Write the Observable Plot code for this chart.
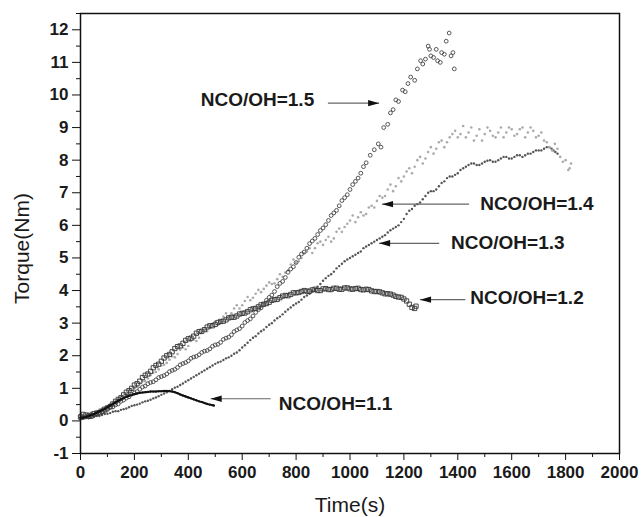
<!DOCTYPE html>
<html><head><meta charset="utf-8">
<script src="https://cdn.jsdelivr.net/npm/d3@7"></script>
<script src="https://cdn.jsdelivr.net/npm/@observablehq/plot@0.6"></script>
<style>body{margin:0;background:#fff}#chart{width:641px;height:517px}</style>
</head><body><div id="chart"></div>
<script>
// ---- data: [time (s), torque (Nm)] ----
const nco15 = [[0,0.15],[10,0.1],[20,0.12],[30,0.18],[40,0.2],[50,0.17],[60,0.2],[70,0.26],[80,0.28],[90,0.3],[100,0.35],[110,0.41],[120,0.43],[130,0.49],[140,0.52],[150,0.6],[160,0.64],[170,0.7],[180,0.74],[190,0.82],[200,0.86],[210,0.9],[220,0.97],[230,1.04],[240,1.07],[250,1.14],[260,1.18],[270,1.2],[280,1.26],[290,1.33],[300,1.36],[310,1.39],[320,1.44],[330,1.51],[340,1.55],[350,1.58],[360,1.64],[370,1.72],[380,1.76],[390,1.79],[400,1.84],[410,1.92],[420,1.96],[430,1.98],[440,2.03],[450,2.1],[460,2.14],[470,2.16],[480,2.21],[490,2.29],[500,2.33],[510,2.35],[520,2.41],[530,2.5],[540,2.54],[550,2.57],[560,2.64],[570,2.74],[580,2.79],[590,2.83],[600,2.91],[610,3.02],[620,3.08],[630,3.13],[640,3.22],[650,3.33],[660,3.41],[670,3.47],[680,3.57],[690,3.7],[700,3.79],[710,3.86],[720,3.97],[730,4.12],[740,4.22],[750,4.28],[760,4.4],[770,4.56],[780,4.66],[790,4.73],[800,4.86],[810,5.02],[820,5.12],[830,5.18],[840,5.3],[850,5.44],[860,5.52],[870,5.6],[880,5.72],[890,5.84],[900,5.92],[910,6.02],[920,6.15],[930,6.3],[940,6.38],[950,6.46],[960,6.6],[970,6.76],[980,6.85],[990,6.94],[1000,7.1],[1010,7.25],[1020,7.35],[1030,7.45],[1040,7.6],[1050,7.8],[1060,7.92],[1075,8.15],[1090,8.32],[1105,8.5],[1115,8.4],[1125,9.0],[1140,9.1],[1150,9.45],[1160,9.55],[1170,9.85],[1180,9.8],[1195,10.15],[1205,10.1],[1215,10.35],[1225,10.55],[1240,10.45],[1250,10.8],[1262,11.05],[1270,10.95],[1280,11.1],[1290,11.5],[1295,11.4],[1300,11.2],[1310,11.15],[1320,11.4],[1325,11.05],[1335,11.0],[1340,11.3],[1350,11.25],[1357,11.65],[1368,11.9],[1375,11.2],[1382,11.3],[1387,10.8]];

const nco14 = [[0,0.2],[10,0.18],[20,0.15],[30,0.22],[40,0.25],[50,0.22],[60,0.3],[70,0.35],[80,0.38],[90,0.4],[100,0.45],[110,0.52],[120,0.55],[130,0.6],[140,0.68],[150,0.75],[160,0.78],[170,0.82],[180,0.92],[190,0.98],[200,1.0],[210,1.05],[220,1.15],[230,1.22],[240,1.22],[250,1.3],[260,1.4],[270,1.48],[280,1.5],[290,1.58],[300,1.7],[310,1.72],[320,1.78],[330,1.88],[340,1.98],[350,1.95],[360,2.05],[370,2.18],[380,2.25],[390,2.2],[400,2.3],[410,2.45],[420,2.5],[430,2.45],[440,2.55],[450,2.7],[460,2.78],[470,2.75],[480,2.85],[490,2.98],[500,3.05],[510,2.95],[520,3.05],[530,3.2],[540,3.3],[550,3.2],[560,3.3],[570,3.45],[580,3.55],[590,3.45],[600,3.55],[610,3.68],[620,3.8],[630,3.7],[640,3.78],[650,3.9],[660,4.02],[670,3.95],[680,4.05],[690,4.15],[700,4.25],[710,4.2],[720,4.22],[730,4.35],[740,4.5],[750,4.42],[760,4.55],[770,4.62],[780,4.8],[790,4.95],[800,4.85],[810,4.9],[820,5.0],[830,5.15],[840,5.2],[850,5.3],[860,5.15],[870,5.3],[880,5.45],[890,5.5],[900,5.4],[910,5.55],[920,5.65],[930,5.5],[940,5.6],[950,5.8],[960,5.9],[970,5.8],[980,5.95],[990,6.05],[1000,6.15],[1010,6.3],[1020,6.1],[1030,6.25],[1040,6.4],[1050,6.3],[1060,6.35],[1070,6.55],[1080,6.6],[1090,6.55],[1100,6.75],[1110,6.9],[1120,6.85],[1130,6.9],[1140,7.1],[1150,7.25],[1160,7.05],[1170,7.2],[1180,7.45],[1190,7.35],[1200,7.5],[1210,7.65],[1220,7.75],[1230,7.6],[1240,7.8],[1250,8.0],[1260,8.1],[1270,7.9],[1280,8.05],[1290,8.25],[1300,8.4],[1310,8.2],[1320,8.35],[1330,8.55],[1340,8.6],[1350,8.4],[1360,8.55],[1370,8.7],[1380,8.8],[1390,8.9],[1400,8.7],[1410,8.8],[1420,9.05],[1430,8.7],[1440,8.85],[1450,9.0],[1460,8.6],[1470,8.75],[1480,8.95],[1490,8.6],[1500,8.8],[1510,9.0],[1520,8.9],[1530,8.75],[1540,8.7],[1550,8.85],[1560,9.0],[1570,8.7],[1580,8.85],[1590,9.0],[1600,8.95],[1610,8.75],[1620,8.8],[1630,8.95],[1640,9.0],[1650,8.7],[1660,8.85],[1670,9.0],[1680,8.9],[1690,8.7],[1700,8.75],[1710,8.85],[1720,8.6],[1730,8.55],[1740,8.4],[1750,8.3],[1760,8.5],[1770,8.35],[1780,8.1],[1790,7.95],[1800,8.0],[1810,7.7],[1815,7.75],[1820,7.9]];

const nco13 = [[0,0.05],[10,0.08],[20,0.1],[30,0.08],[40,0.1],[50,0.13],[60,0.15],[70,0.15],[80,0.18],[90,0.21],[100,0.22],[110,0.24],[120,0.28],[130,0.3],[140,0.3],[150,0.34],[160,0.36],[170,0.38],[180,0.42],[190,0.46],[200,0.48],[210,0.5],[220,0.53],[230,0.57],[240,0.6],[250,0.62],[260,0.65],[270,0.69],[280,0.72],[290,0.76],[300,0.8],[310,0.84],[320,0.88],[330,0.92],[340,0.97],[350,1.02],[360,1.05],[370,1.1],[380,1.15],[390,1.2],[400,1.25],[410,1.3],[420,1.35],[430,1.4],[440,1.45],[450,1.5],[460,1.55],[470,1.6],[480,1.65],[490,1.7],[500,1.75],[510,1.79],[520,1.82],[530,1.87],[540,1.92],[550,1.95],[560,2.0],[570,2.06],[580,2.1],[590,2.17],[600,2.25],[610,2.32],[620,2.4],[630,2.48],[640,2.55],[650,2.6],[660,2.68],[670,2.75],[680,2.8],[690,2.88],[700,2.95],[710,3.0],[720,3.08],[730,3.15],[740,3.2],[750,3.27],[760,3.35],[770,3.42],[780,3.48],[790,3.55],[800,3.6],[810,3.65],[820,3.72],[830,3.8],[840,3.85],[850,3.9],[860,3.98],[870,4.05],[880,4.12],[890,4.2],[900,4.3],[910,4.38],[920,4.45],[930,4.5],[940,4.58],[950,4.68],[960,4.75],[970,4.82],[980,4.9],[990,4.95],[1000,5.0],[1010,5.05],[1020,5.1],[1030,5.15],[1040,5.2],[1050,5.3],[1060,5.35],[1070,5.4],[1080,5.45],[1090,5.5],[1100,5.55],[1110,5.6],[1120,5.65],[1130,5.7],[1140,5.78],[1150,5.85],[1160,5.9],[1170,5.95],[1180,6.0],[1190,6.1],[1200,6.2],[1210,6.35],[1220,6.45],[1230,6.5],[1240,6.6],[1250,6.65],[1260,6.7],[1270,6.8],[1280,6.9],[1290,7.0],[1300,7.05],[1310,7.05],[1320,7.1],[1330,7.2],[1340,7.3],[1350,7.35],[1360,7.45],[1370,7.5],[1380,7.5],[1390,7.55],[1400,7.6],[1410,7.7],[1420,7.75],[1430,7.8],[1440,7.85],[1450,7.9],[1460,7.9],[1470,7.85],[1480,7.85],[1490,7.9],[1500,7.95],[1510,7.98],[1520,8.0],[1530,7.95],[1540,7.95],[1550,8.0],[1560,8.05],[1570,8.1],[1580,8.1],[1590,8.05],[1600,8.05],[1610,8.1],[1620,8.15],[1630,8.15],[1640,8.1],[1650,8.15],[1660,8.2],[1670,8.2],[1680,8.25],[1690,8.3],[1700,8.3],[1710,8.3],[1720,8.35],[1730,8.4],[1740,8.4],[1748,8.35],[1755,8.3],[1762,8.25],[1770,8.2]];

const nco12 = [[0,0.12],[10,0.2],[20,0.18],[30,0.14],[40,0.15],[50,0.22],[60,0.24],[70,0.25],[80,0.3],[90,0.36],[100,0.4],[110,0.44],[120,0.52],[130,0.6],[140,0.66],[150,0.71],[160,0.8],[170,0.88],[180,0.93],[190,1.0],[200,1.1],[210,1.14],[220,1.22],[230,1.33],[240,1.4],[250,1.44],[260,1.52],[270,1.63],[280,1.7],[290,1.74],[300,1.83],[310,1.93],[320,2.0],[330,2.04],[340,2.12],[350,2.22],[360,2.28],[370,2.3],[380,2.38],[390,2.47],[400,2.52],[410,2.54],[420,2.6],[430,2.69],[440,2.74],[450,2.75],[460,2.8],[470,2.88],[480,2.92],[490,2.92],[500,2.96],[510,3.02],[520,3.05],[530,3.06],[540,3.1],[550,3.16],[560,3.18],[570,3.18],[580,3.22],[590,3.28],[600,3.3],[610,3.31],[620,3.35],[630,3.41],[640,3.44],[650,3.45],[660,3.5],[670,3.56],[680,3.58],[690,3.6],[700,3.64],[710,3.7],[720,3.72],[730,3.73],[740,3.78],[750,3.83],[760,3.85],[770,3.84],[780,3.88],[790,3.93],[800,3.93],[810,3.94],[820,3.97],[830,4.0],[840,3.98],[850,3.98],[860,4.02],[870,4.04],[880,4.0],[890,4.0],[900,4.05],[910,4.06],[920,4.03],[930,4.03],[940,4.07],[950,4.07],[960,4.04],[970,4.04],[980,4.08],[990,4.08],[1000,4.05],[1010,4.04],[1020,4.06],[1030,4.07],[1040,4.03],[1050,4.02],[1060,4.04],[1070,4.03],[1080,3.99],[1090,3.97],[1100,3.97],[1110,3.96],[1120,3.93],[1130,3.9],[1140,3.9],[1150,3.89],[1160,3.86],[1170,3.82],[1180,3.8],[1190,3.79],[1200,3.74],[1210,3.68],[1220,3.58],[1230,3.48],[1240,3.45],[1245,3.52]];

const nco11 = [[0,0.1],[10,0.1],[20,0.12],[30,0.15],[40,0.18],[50,0.21],[60,0.25],[70,0.29],[80,0.33],[90,0.37],[100,0.42],[110,0.47],[120,0.52],[130,0.57],[140,0.62],[150,0.66],[160,0.7],[170,0.74],[180,0.77],[190,0.8],[200,0.82],[210,0.84],[220,0.86],[230,0.87],[240,0.88],[250,0.89],[260,0.9],[270,0.9],[280,0.9],[290,0.91],[300,0.91],[310,0.92],[320,0.92],[330,0.91],[340,0.9],[350,0.88],[360,0.85],[370,0.81],[380,0.78],[390,0.75],[400,0.72],[410,0.69],[420,0.66],[430,0.63],[440,0.6],[450,0.58],[460,0.55],[470,0.52],[480,0.5],[490,0.48],[495,0.47]];

const xTicks = [0,200,400,600,800,1000,1200,1400,1600,1800,2000];
const xMinor = [100,300,500,700,900,1100,1300,1500,1700,1900];
const yTicks = [-1,0,1,2,3,4,5,6,7,8,9,10,11,12];
const yMinor = [-0.5,0.5,1.5,2.5,3.5,4.5,5.5,6.5,7.5,8.5,9.5,10.5,11.5,12.5];

const annLabels = ["NCO/OH=1.5","NCO/OH=1.4","NCO/OH=1.3","NCO/OH=1.2","NCO/OH=1.1"];
const annTextX = [446, 1483, 1375, 1446, 736];
const annTextY = [9.85, 6.65, 5.45, 3.78, 0.52];
const arrowFromX = [918, 1442, 1331, 1428, 706];
const arrowToX = [1108, 1119, 1108, 1260, 483];
const arrowY = [9.75, 6.65, 5.45, 3.72, 0.68];

// ---- build tables ----
const pts = arr => arr.map(([t, v]) => ({t, v}));
const s15 = pts(nco15), s14 = pts(nco14), s13 = pts(nco13), s12 = pts(nco12), s11 = pts(nco11);
const ann = annLabels.map((label, i) => ({label, tx: annTextX[i], ty: annTextY[i], x1: arrowFromX[i], x2: arrowToX[i], y: arrowY[i], rot: arrowToX[i] > arrowFromX[i] ? 0 : 180}));

const head = {draw(ctx) { ctx.moveTo(0, 0); ctx.lineTo(-11, -3.2); ctx.lineTo(-11, 3.2); ctx.closePath(); }};
const fmt = d => String(d);

const chart = Plot.plot({
  width: 641, height: 517,
  marginLeft: 80, marginRight: 22, marginTop: 13, marginBottom: 64,
  style: {fontFamily: "Arial, 'Liberation Sans', sans-serif", background: "#fff", color: "#1a1a1a"},
  x: {domain: [0, 2000], label: null},
  y: {domain: [-1, 12.5], label: null},
  marks: [
    Plot.dot(s13, {x: "t", y: "v", r: 1.2, fill: "#555", stroke: null}),
    Plot.dot(s14, {x: "t", y: "v", r: 1.3, fill: "#aaa", stroke: null}),
    Plot.dot(s12, {x: "t", y: "v", symbol: "square", r: 2.4, fill: "none", stroke: "#333", strokeWidth: 0.9}),
    Plot.dot(s15, {x: "t", y: "v", r: 1.9, fill: "none", stroke: "#444", strokeWidth: 0.9}),
    Plot.line(s11, {x: "t", y: "v", stroke: "#111", strokeWidth: 2}),
    Plot.dot(s11, {x: "t", y: "v", r: 1.1, fill: "#111"}),
    Plot.link(ann, {x1: "x1", x2: "x2", y1: "y", y2: "y", stroke: "#666", strokeWidth: 1.2}),
    Plot.dot(ann, {x: "x2", y: "y", symbol: head, rotate: "rot", fill: "#111", stroke: null}),
    Plot.text(ann, {x: "tx", y: "ty", text: "label", textAnchor: "start", lineAnchor: "middle", fontSize: 19, fontWeight: "bold", fill: "#1a1a1a"}),
    Plot.axisX(xMinor, {tickSize: 4, tickFormat: () => "", stroke: "#111"}),
    Plot.axisY(yMinor, {tickSize: 4, tickFormat: () => "", stroke: "#111"}),
    Plot.axisX(xTicks, {tickSize: 7, tickPadding: 5, tickFormat: fmt, fontSize: 17, fontWeight: "bold", stroke: "#111", fill: "#1a1a1a"}),
    Plot.axisY(yTicks, {tickSize: 8, tickPadding: 4, tickFormat: fmt, fontSize: 17, fontWeight: "bold", stroke: "#111", fill: "#1a1a1a"}),
    Plot.frame({stroke: "#111", strokeWidth: 1.5}),
    Plot.text(["Torque(Nm)"], {frameAnchor: "left", text: d => d, rotate: -90, dx: -58, dy: 15, textAnchor: "middle", lineAnchor: "middle", fontSize: 21, fill: "#1a1a1a"}),
    Plot.text(["Time(s)"], {frameAnchor: "bottom", text: d => d, dy: 52, textAnchor: "middle", lineAnchor: "middle", fontSize: 21, fill: "#1a1a1a"})
  ]
});
document.getElementById("chart").appendChild(chart);
</script>
</body></html>
